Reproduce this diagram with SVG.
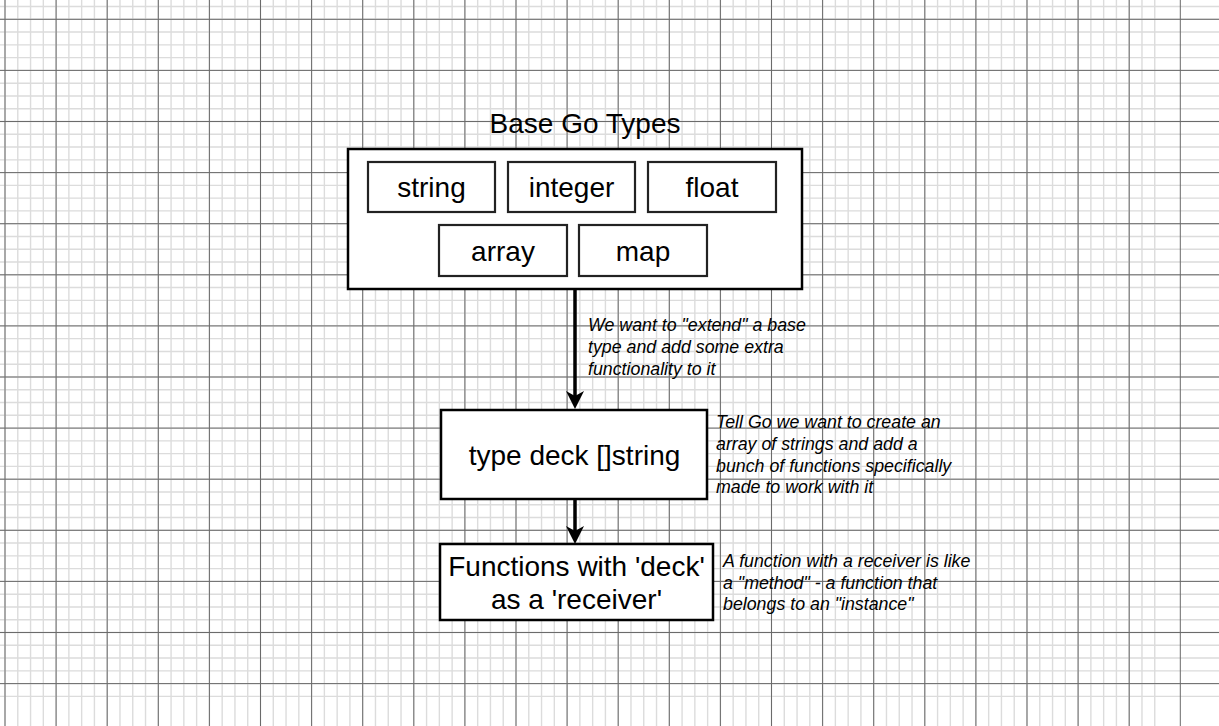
<svg xmlns="http://www.w3.org/2000/svg" width="1219" height="726" viewBox="0 0 1219 726">
<style>
.minor{stroke:#dcdcdc;stroke-width:1.4;fill:none}
.major{stroke:#6a6a6a;stroke-width:1;fill:none}
.box{fill:#fff;stroke:#000;stroke-width:2.5}
.ibox{fill:#fff;stroke:#222;stroke-width:2.2}
.t{font-family:"Liberation Sans",Arial,sans-serif;font-size:28px;fill:#000;text-anchor:middle}
.note{font-family:"Liberation Sans",Arial,sans-serif;font-size:17.8px;font-style:italic;fill:#000}
.edge{stroke:#000;stroke-width:3.5;fill:none}
</style>
<defs>
<marker id="arr" viewBox="0 0 18 18" refX="5" refY="9" markerWidth="18" markerHeight="18" orient="auto" markerUnits="userSpaceOnUse">
<path d="M0,0 L18,9 L0,18 L5,9 Z" fill="#000"/>
</marker>
</defs>
<rect width="1219" height="726" fill="#fff"/>
<g id="grid">
<path class="minor" d="M5 0V726m12.775-726v726m12.775-726v726m12.775-726v726m12.775-726v726m12.775-726v726m12.775-726v726m12.775-726v726m12.775-726v726m12.775-726v726m12.775-726v726m12.775-726v726m12.775-726v726m12.775-726v726m12.775-726v726m12.775-726v726m12.775-726v726m12.775-726v726m12.775-726v726m12.775-726v726m12.775-726v726m12.775-726v726m12.775-726v726m12.775-726v726m12.775-726v726m12.775-726v726m12.775-726v726m12.775-726v726m12.775-726v726m12.775-726v726m12.775-726v726m12.775-726v726m12.775-726v726m12.775-726v726m12.775-726v726m12.775-726v726m12.775-726v726m12.775-726v726m12.775-726v726m12.775-726v726m12.775-726v726m12.775-726v726m12.775-726v726m12.775-726v726m12.775-726v726m12.775-726v726m12.775-726v726m12.775-726v726m12.775-726v726m12.775-726v726m12.775-726v726m12.775-726v726m12.775-726v726m12.775-726v726m12.775-726v726m12.775-726v726m12.775-726v726m12.775-726v726m12.775-726v726m12.775-726v726m12.775-726v726m12.775-726v726m12.775-726v726m12.775-726v726m12.775-726v726m12.775-726v726m12.775-726v726m12.775-726v726m12.775-726v726m12.775-726v726m12.775-726v726m12.775-726v726m12.775-726v726m12.775-726v726m12.775-726v726m12.775-726v726m12.775-726v726m12.775-726v726m12.775-726v726m12.775-726v726m12.775-726v726m12.775-726v726m12.775-726v726m12.775-726v726m12.775-726v726m12.775-726v726m12.775-726v726m12.775-726v726m12.775-726v726m12.775-726v726m12.775-726v726"/>
<path class="minor" d="M0 6.525H1219m-1219 12.775h1219m-1219 12.775h1219m-1219 12.775h1219m-1219 12.775h1219m-1219 12.775h1219m-1219 12.775h1219m-1219 12.775h1219m-1219 12.775h1219m-1219 12.775h1219m-1219 12.775h1219m-1219 12.775h1219m-1219 12.775h1219m-1219 12.775h1219m-1219 12.775h1219m-1219 12.775h1219m-1219 12.775h1219m-1219 12.775h1219m-1219 12.775h1219m-1219 12.775h1219m-1219 12.775h1219m-1219 12.775h1219m-1219 12.775h1219m-1219 12.775h1219m-1219 12.775h1219m-1219 12.775h1219m-1219 12.775h1219m-1219 12.775h1219m-1219 12.775h1219m-1219 12.775h1219m-1219 12.775h1219m-1219 12.775h1219m-1219 12.775h1219m-1219 12.775h1219m-1219 12.775h1219m-1219 12.775h1219m-1219 12.775h1219m-1219 12.775h1219m-1219 12.775h1219m-1219 12.775h1219m-1219 12.775h1219m-1219 12.775h1219m-1219 12.775h1219m-1219 12.775h1219m-1219 12.775h1219m-1219 12.775h1219m-1219 12.775h1219m-1219 12.775h1219m-1219 12.775h1219m-1219 12.775h1219m-1219 12.775h1219m-1219 12.775h1219m-1219 12.775h1219m-1219 12.775h1219m-1219 12.775h1219"/>
<path class="major" d="M5 0V726m51.1-726v726m51.1-726v726m51.1-726v726m51.1-726v726m51.1-726v726m51.1-726v726m51.1-726v726m51.1-726v726m51.1-726v726m51.1-726v726m51.1-726v726m51.1-726v726m51.1-726v726m51.1-726v726m51.1-726v726m51.1-726v726m51.1-726v726m51.1-726v726m51.1-726v726m51.1-726v726m51.1-726v726m51.1-726v726m51.1-726v726"/>
<path class="major" d="M0 19.3H1219m-1219 51.1h1219m-1219 51.1h1219m-1219 51.1h1219m-1219 51.1h1219m-1219 51.1h1219m-1219 51.1h1219m-1219 51.1h1219m-1219 51.1h1219m-1219 51.1h1219m-1219 51.1h1219m-1219 51.1h1219m-1219 51.1h1219m-1219 51.1h1219"/>
</g>
<g id="connectors">
<path class="edge" d="M575 289V396" marker-end="url(#arr)"/>
<path class="edge" d="M575 499V531" marker-end="url(#arr)"/>
</g>
<g id="base-go-types">
<text class="t" x="585" y="133">Base Go Types</text>
<rect class="box" x="348" y="149" width="454" height="140"/>
</g>
<g id="string"><rect class="ibox" x="368" y="162" width="127" height="50"/><text class="t" x="431.5" y="196.5">string</text></g>
<g id="integer"><rect class="ibox" x="508" y="162" width="127" height="50"/><text class="t" x="571.5" y="196.5">integer</text></g>
<g id="float"><rect class="ibox" x="648" y="162" width="128" height="50"/><text class="t" x="712" y="196.5">float</text></g>
<g id="array"><rect class="ibox" x="439" y="225" width="128" height="51"/><text class="t" x="503" y="260.5">array</text></g>
<g id="map"><rect class="ibox" x="579" y="225" width="128" height="51"/><text class="t" x="643" y="260.5">map</text></g>
<g id="deck"><rect class="box" x="441" y="410" width="266" height="89"/><text class="t" x="574.5" y="465">type deck []string</text></g>
<g id="functions"><rect class="box" x="440" y="544" width="273" height="76"/><text class="t" x="576.5" y="576">Functions with 'deck'</text><text class="t" x="576.5" y="609">as a 'receiver'</text></g>
<g id="note-extend"><text class="note" x="588" y="331">We want to "extend" a base</text><text class="note" x="588" y="353">type and add some extra</text><text class="note" x="588" y="375">functionality to it</text></g>
<g id="note-deck"><text class="note" x="716" y="428">Tell Go we want to create an</text><text class="note" x="716" y="450">array of strings and add a</text><text class="note" x="716" y="471.5">bunch of functions specifically</text><text class="note" x="716" y="493">made to work with it</text></g>
<g id="note-receiver"><text class="note" x="723" y="567">A function with a receiver is like</text><text class="note" x="723" y="589">a "method" - a function that</text><text class="note" x="723" y="610">belongs to an "instance"</text></g>
</svg>
